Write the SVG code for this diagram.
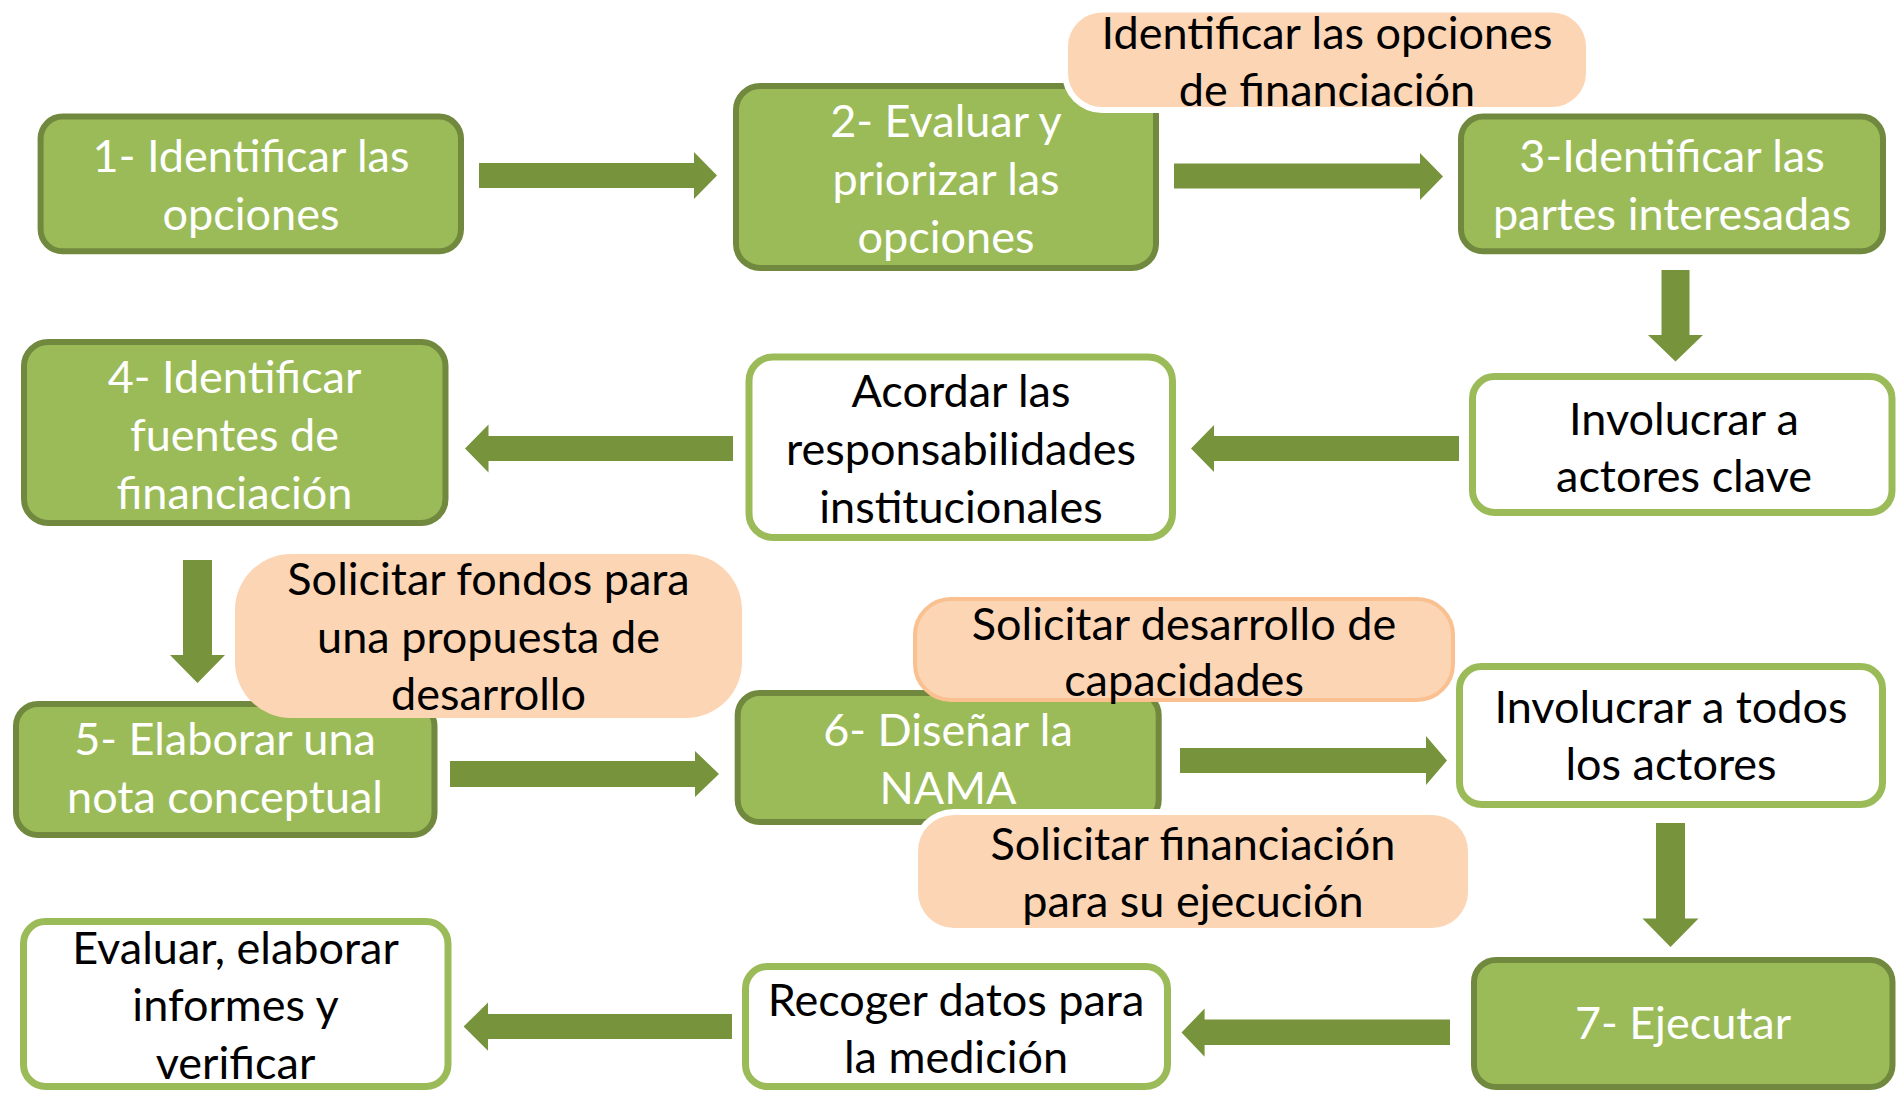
<svg xmlns="http://www.w3.org/2000/svg" width="1897" height="1093" viewBox="0 0 1897 1093">
<style>
.g rect{fill:#9BBB59;stroke:#71893F;stroke-width:6}
.w rect{fill:#FFFFFF;stroke:#9BBB59;stroke-width:7}
.o rect{fill:#FCD5B5}
.o .wo{fill:#FFFFFF;stroke:none}
.o3 rect{fill:#FCD5B5;stroke:#FAC090;stroke-width:4}
text{font-family:Lato,"Open Sans",sans-serif;font-size:45px;text-anchor:middle}
.g text{fill:#FFFFFF}
.w text,.o text,.o3 text{fill:#000000}
.arr polygon{fill:#77933C}
</style>
<g id="n1" class="g"><rect x="40.6" y="116.6" width="420.4" height="134.7" rx="22"/><text x="251" y="172">1- Identificar las</text><text x="251" y="230">opciones</text></g>
<g id="n2" class="g"><rect x="736" y="86" width="420" height="182" rx="24"/><text x="946" y="137">2- Evaluar y</text><text x="946" y="195">priorizar las</text><text x="946" y="253">opciones</text></g>
<g id="n3" class="g"><rect x="1461" y="116.6" width="422" height="134.7" rx="22"/><text x="1672" y="172">3-Identificar las</text><text x="1672" y="230">partes interesadas</text></g>
<g id="n4" class="g"><rect x="24" y="342" width="421.5" height="181" rx="24"/><text x="234.5" y="393">4- Identificar</text><text x="234.5" y="451">fuentes de</text><text x="234.5" y="509">financiación</text></g>
<g id="n5" class="g"><rect x="16" y="704" width="418.5" height="131" rx="22"/><text x="225" y="755">5- Elaborar una</text><text x="225" y="813">nota conceptual</text></g>
<g id="n6" class="g"><rect x="737.7" y="693" width="421" height="129" rx="22"/><text x="948" y="746">6- Diseñar la</text><text x="948" y="804">NAMA</text></g>
<g id="n7" class="g"><rect x="1474" y="960" width="418.5" height="127" rx="22"/><text x="1683" y="1039">7- Ejecutar</text></g>
<g id="acordar" class="w"><rect x="749" y="357" width="423.5" height="180.5" rx="24"/><text x="961" y="407">Acordar las</text><text x="961" y="465">responsabilidades</text><text x="961" y="523">institucionales</text></g>
<g id="involucrar-clave" class="w"><rect x="1472.5" y="376.5" width="419.5" height="136" rx="22"/><text x="1684" y="435">Involucrar a</text><text x="1684" y="492">actores clave</text></g>
<g id="involucrar-todos" class="w"><rect x="1459.5" y="666.5" width="423" height="138" rx="22"/><text x="1671" y="723">Involucrar a todos</text><text x="1671" y="780">los actores</text></g>
<g id="evaluar" class="w"><rect x="23.5" y="921.5" width="424.5" height="165" rx="22"/><text x="235.5" y="964">Evaluar, elaborar</text><text x="235.5" y="1021">informes y</text><text x="235.5" y="1079">verificar</text></g>
<g id="recoger" class="w"><rect x="745.5" y="966.5" width="422" height="120" rx="22"/><text x="956" y="1016">Recoger datos para</text><text x="956" y="1073">la medición</text></g>
<g id="o-identificar" class="o"><rect class="wo" x="1062" y="6.5" width="530" height="106.5" rx="40"/><rect x="1068" y="12.5" width="518" height="94.5" rx="34"/><text x="1327" y="49">Identificar las opciones</text><text x="1327" y="106">de financiación</text></g>
<g id="o-fondos" class="o"><rect x="235" y="554" width="507" height="164" rx="56"/><text x="488.5" y="595">Solicitar fondos para</text><text x="488.5" y="653">una propuesta de</text><text x="488.5" y="710">desarrollo</text></g>
<g id="o-desarrollo" class="o3"><rect x="915" y="599" width="538" height="101" rx="36"/><text x="1184" y="640">Solicitar desarrollo de</text><text x="1184" y="696">capacidades</text></g>
<g id="o-financiacion" class="o"><rect class="wo" x="912" y="809" width="562" height="125" rx="42"/><rect x="918" y="815" width="550" height="113" rx="36"/><text x="1193" y="860">Solicitar financiación</text><text x="1193" y="917">para su ejecución</text></g>
<g id="connectors" class="arr">
<polygon points="479,163 694,163 694,152 717,175.5 694,199 694,188 479,188"/>
<polygon points="1174,163.5 1420,163.5 1420,153 1443,176.5 1420,200 1420,188.5 1174,188.5"/>
<polygon points="1661.5,270 1689.5,270 1689.5,335 1703,335 1675.5,361.5 1648,335 1661.5,335"/>
<polygon points="1459,436 1214,436 1214,425 1191,448.5 1214,472 1214,461 1459,461"/>
<polygon points="733,436 488.5,436 488.5,424.5 465,448.5 488.5,472.5 488.5,461 733,461"/>
<polygon points="183,560 212,560 212,655 225,655 197.5,683 170,655 183,655"/>
<polygon points="450,761 695,761 695,751 719,774 695,797 695,787 450,787"/>
<polygon points="1180,748 1426,748 1426,736 1447,760.5 1426,785 1426,773 1180,773"/>
<polygon points="1656,823 1685,823 1685,918.5 1698.5,918.5 1670.5,947 1642.5,918.5 1656,918.5"/>
<polygon points="1450,1019.6 1204.6,1019.6 1204.6,1008.6 1181.5,1032.5 1204.6,1056.8 1204.6,1045 1450,1045"/>
<polygon points="732,1014 488,1014 488,1002.5 463.6,1026.6 488,1050.7 488,1039 732,1039"/>
</g>
</svg>
